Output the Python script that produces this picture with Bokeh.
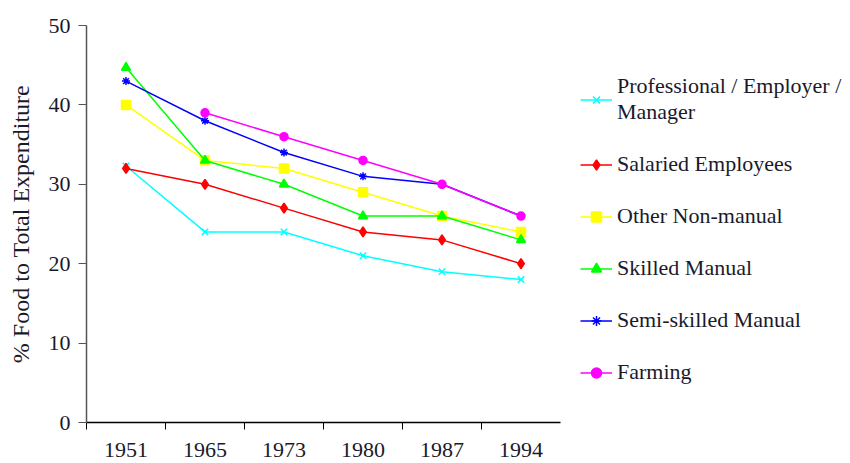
from bokeh.plotting import figure
from bokeh.models import Range1d, FixedTicker, Legend, LegendItem, CustomJSTickFormatter
from bokeh.embed import file_html
from bokeh.resources import INLINE

years = ["1951", "1965", "1973", "1980", "1987", "1994"]
professional = [32.3, 24, 24, 21, 19, 18]
salaried = [32, 30, 27, 24, 23, 20]
other_non_manual = [40, 33, 32, 29, 26, 24]
skilled_manual = [44.7, 33, 30, 26, 26, 23]
semi_skilled = [43, 38, 34, 31, 30, 26]
farming = [float("nan"), 39, 36, 33, 30, 26]

series = [
    ("Professional / Employer /\nManager", professional, "#00FFFF", "x", 9),
    ("Salaried Employees", salaried, "#FF0000", "diamond", 10),
    ("Other Non-manual", other_non_manual, "#FFFF00", "square", 9),
    ("Skilled Manual", skilled_manual, "#00FF00", "triangle", 9),
    ("Semi-skilled Manual", semi_skilled, "#0000FF", "asterisk", 8),
    ("Farming", farming, "#FF00FF", "circle", 8),
]

xs = [i + 0.5 for i in range(len(years))]
FONT = "Liberation Serif"
TXT = "#1a1a2a"

p = figure(frame_width=474, frame_height=397, output_backend="svg", toolbar_location=None,
           x_range=Range1d(0, len(years)), y_range=Range1d(0, 50),
           min_border_left=86, min_border_right=0, min_border_top=25, min_border_bottom=41)
p.outline_line_color = None
p.xgrid.visible = False
p.ygrid.visible = False
p.background_fill_color = "white"
p.border_fill_color = "white"

items = []
for label, vals, color, marker, size in series:
    lr = p.line(xs, vals, line_color=color, line_width=1.5)
    sr = p.scatter(xs, vals, marker=marker, size=size, fill_color=color,
                   line_color=color, line_width=1.5)
    items.append(LegendItem(label=label, renderers=[lr, sr]))

# x axis
p.xaxis.ticker = FixedTicker(ticks=xs, minor_ticks=list(range(len(years))))
p.xaxis.formatter = CustomJSTickFormatter(args=dict(labels=years),
                                          code="return labels[Math.floor(tick)];")
p.xaxis.major_tick_out = 0
p.xaxis.major_tick_in = 0
p.xaxis.minor_tick_out = 7
p.xaxis.minor_tick_in = 0
p.xaxis.minor_tick_line_color = "black"
p.xaxis.axis_line_color = "black"
p.xaxis.axis_line_width = 1.5
p.xaxis.major_label_text_font = FONT
p.xaxis.major_label_text_font_size = "22px"
p.xaxis.major_label_text_color = TXT
p.xaxis.major_label_standoff = 13

# y axis
p.yaxis.ticker = FixedTicker(ticks=[0, 10, 20, 30, 40, 50])
p.yaxis.major_tick_out = 8
p.yaxis.major_tick_in = 0
p.yaxis.minor_tick_line_color = None
p.yaxis.axis_line_color = "#555555"
p.yaxis.axis_line_width = 1.5
p.yaxis.major_tick_line_color = "#555555"
p.yaxis.major_label_text_font = FONT
p.yaxis.major_label_text_font_size = "22px"
p.yaxis.major_label_text_color = TXT
p.yaxis.major_label_standoff = 8
p.yaxis.axis_label = "% Food to Total Expenditure"
p.yaxis.axis_label_text_font = FONT
p.yaxis.axis_label_text_font_size = "24px"
p.yaxis.axis_label_text_font_style = "normal"
p.yaxis.axis_label_text_color = TXT
p.yaxis.axis_label_standoff = 12

legend = Legend(items=items, location=(20, 37), border_line_color=None,
                background_fill_alpha=0, padding=0, margin=0,
                label_text_font=FONT, label_text_font_size="22px",
                label_text_color=TXT, glyph_width=32, glyph_height=25,
                label_height=25, label_standoff=5, spacing=26)
p.add_layout(legend, "right")

open("out.html", "w").write(file_html(p, INLINE))
